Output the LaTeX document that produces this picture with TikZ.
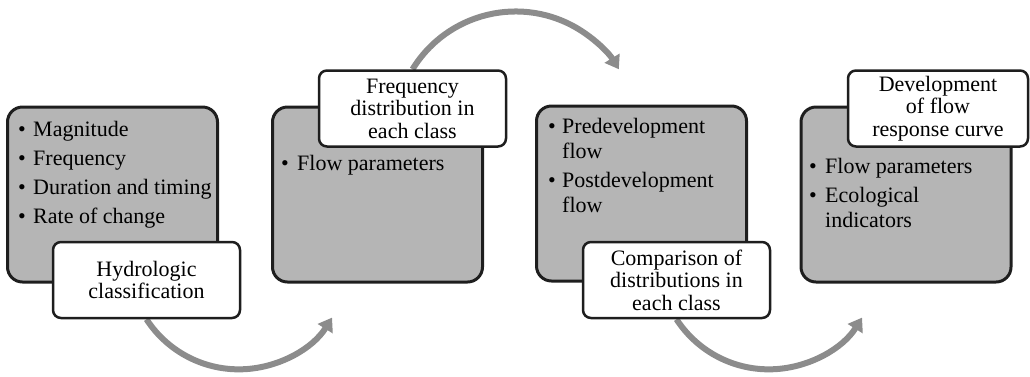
\documentclass[tikz,border=0pt]{standalone}
\usepackage{fontspec}
\setmainfont{Liberation Serif}
\usetikzlibrary{arrows.meta}
\pgfdeclarelayer{back}
\pgfsetlayers{back,main}
\definecolor{boxgray}{HTML}{B5B5B5}
\definecolor{arrgray}{HTML}{8C8C8C}
\definecolor{edgecol}{HTML}{1E1E1E}
\begin{document}
\begin{tikzpicture}[x=1pt,y=-1pt,
  graybox/.style={draw=edgecol, fill=boxgray, line width=3pt, rounded corners=15pt,
    minimum width=210pt, minimum height=175pt, inner sep=0pt},
  tagbox/.style={draw=edgecol, fill=white, line width=2.5pt, rounded corners=8pt,
    inner sep=0pt, align=center, minimum width=187pt, minimum height=76pt,
    font=\fontsize{22}{22.5}\selectfont},
  flowarrow/.style={draw=arrgray, line width=6pt, -{Triangle[width=17pt,length=13pt]}},
  itemtext/.style={anchor=base west, inner sep=0pt, font=\fontsize{22}{26}\selectfont},
  bulletdot/.style={anchor=base, inner sep=0pt, font=\fontsize{22}{26}\selectfont}
]
\useasboundingbox (0,0) rectangle (1030,376);

% gray boxes
\node[graybox] (b1) at (112.5,194.5) {};
\node[graybox] (b2) at (377.5,194.5) {};
\node[graybox] (b3) at (641.5,193.5) {};
\node[graybox] (b4) at (906,194.5) {};

% label boxes
\node[tagbox] (t1) at (146.5,280) {Hydrologic\\classification};
\node[tagbox] (t2) at (412.5,108.5) {Frequency\\distribution in\\each class};
\node[tagbox] (t3) at (676.5,280) {Comparison of\\distributions in\\each class};
\node[tagbox, minimum width=180pt] (t4) at (938,108.5) {Development\\of flow\\response curve};

% arrows, behind everything
\begin{pgfonlayer}{back}
\draw[flowarrow] (t1.south) arc[start angle=147, end angle=32, radius=110];
\draw[flowarrow] (t2.north) arc[start angle=211.5, end angle=328.5, radius=121];
\draw[flowarrow] (t3.south) arc[start angle=147, end angle=32, radius=110];
\end{pgfonlayer}

% box 1 items
\node[bulletdot] (d11) at (22,136) {•};
\node[itemtext] (i11) at (33,136) {Magnitude};
\node[bulletdot] (d12) at (22,165) {•};
\node[itemtext] (i12) at (33,165) {Frequency};
\node[bulletdot] (d13) at (22,194) {•};
\node[itemtext] (i13) at (33,194) {Duration and timing};
\node[bulletdot] (d14) at (22,223) {•};
\node[itemtext] (i14) at (33,223) {Rate of change};

% box 2 items
\node[bulletdot] (d21) at (285,170) {•};
\node[itemtext] (i21) at (297,170) {Flow parameters};

% box 3 items
\node[bulletdot] (d31) at (552,133) {•};
\node[itemtext] (i31) at (562,133) {Predevelopment};
\node[itemtext] (i32) at (562,158) {flow};
\node[bulletdot] (d32) at (552,187) {•};
\node[itemtext] (i33) at (562,187) {Postdevelopment};
\node[itemtext] (i34) at (562,212) {flow};

% box 4 items
\node[bulletdot] (d41) at (813,173) {•};
\node[itemtext] (i41) at (825,173) {Flow parameters};
\node[bulletdot] (d42) at (813,202) {•};
\node[itemtext] (i42) at (825,202) {Ecological};
\node[itemtext] (i43) at (825,227) {indicators};
\end{tikzpicture}
\end{document}
